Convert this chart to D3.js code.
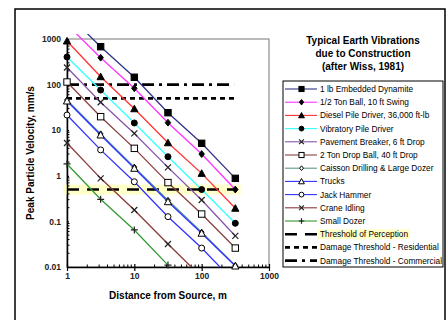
<!DOCTYPE html>
<head>
  <meta charset="utf-8">
  <script src="https://d3js.org/d3.v7.min.js"></script>
  <style>
    body { margin: 0; background: #fff; }
    text { font-family: "Liberation Sans", Arial, sans-serif; }
  </style>
</head>
<body>

<div id="my_dataviz"></div>

<script>

  // distances (m) where the markers sit
  var distances = [1, 3.16, 10, 31.6, 100, 316];

  // peak particle velocity (mm/s), one array per source
  var dynamite        = [3600, 678, 145, 24.2, 5.16, 0.88];
  var halfTonBall     = [2080, 389, 83, 14.6, 3.0, 0.5];
  var dieselPile      = [904, 149, 29.5, 5.3, 1.13, 0.194];
  var vibratoryPile   = [403, 76, 14.4, 2.62, 0.5, 0.091];
  var pavementBreaker = [237, 41, 8.5, 1.53, 0.294, 0.048];
  var dropBall        = [114, 19.8, 4.0, 0.71, 0.145, 0.026];
  var caisson         = [46, 8.3, 1.55, 0.29, 0.058, 0.0108];
  var trucks          = [43.7, 7.85, 1.46, 0.27, 0.055, 0.0105];
  var jackHammer      = [21.5, 3.7, 0.74, 0.127, 0.026, 0.0045];
  var craneIdling     = [5.25, 0.88, 0.178, 0.032, 0.006];
  var smallDozer      = [1.82, 0.305, 0.065, 0.011];

  var seriesNames = ["1 lb Embedded Dynamite", "1/2 Ton Ball, 10 ft Swing",
    "Diesel Pile Driver, 36,000 ft-lb", "Vibratory Pile Driver",
    "Pavement Breaker, 6 ft Drop", "2 Ton Drop Ball, 40 ft Drop",
    "Caisson Drilling & Large Dozer", "Trucks", "Jack Hammer",
    "Crane Idling", "Small Dozer"];

  // thresholds (mm/s) and how far right each line runs (m)
  var thresholdNames = ["Threshold of Perception", "Damage Threshold - Residential",
    "Damage Threshold - Commercial"];
  var thresholdValues = [0.5, 50, 100];
  var thresholdEnds = [330, 312, 303];

  var xTicks = [1, 10, 100, 1000];
  var yTicks = [0.01, 0.1, 1, 10, 100, 1000];

  var seriesValues = [dynamite, halfTonBall, dieselPile, vibratoryPile, pavementBreaker,
    dropBall, caisson, trucks, jackHammer, craneIdling, smallDozer];
  var colors = ["#333388", "#ff33ff", "#ff3333", "#33ffff", "#8a55a8", "#8b4040",
    "#5a9a8a", "#3333ff", "#3333ff", "#8b3a3a", "#339933"];
  var markers = ["square", "diamond", "triangle", "circle", "x", "osquare",
    "odiamond", "otriangle", "ocircle", "x", "plus"];
  var thresholdDash = ["12,8", "5,4", "12,5,3,5"];

  var svg = d3.select("#my_dataviz")
    .append("svg")
      .attr("width", 448)
      .attr("height", 320);

  // outer frame
  svg.append("rect")
    .attr("x", 15).attr("y", 9)
    .attr("width", 430).attr("height", 340)
    .attr("fill", "none")
    .attr("stroke", "#000")
    .attr("stroke-width", 1.5);

  var x = d3.scaleLog().domain([1, 1000]).range([67, 269]);
  var y = d3.scaleLog().domain([0.01, 1000]).range([267, 39]);

  svg.append("clipPath").attr("id", "clip")
    .append("rect")
      .attr("x", 67).attr("y", 34)
      .attr("width", 202).attr("height", 233);

  // plot border
  svg.append("rect")
    .attr("x", 67).attr("y", 39)
    .attr("width", 202).attr("height", 228)
    .attr("fill", "none")
    .attr("stroke", "#8c8c8c")
    .attr("stroke-width", 1.2);

  // yellow band behind threshold of perception
  svg.append("rect")
    .attr("x", x(0.87))
    .attr("y", y(0.5) - 5)
    .attr("width", x(380) - x(0.87))
    .attr("height", 10)
    .attr("fill", "#ffffc8");

  // axes
  var minorX = [], minorY = [];
  [1, 10, 100].forEach(function(d) { for (var k = 2; k < 10; k++) minorX.push(d * k); });
  [0.01, 0.1, 1, 10, 100].forEach(function(d) { for (var k = 2; k < 10; k++) minorY.push(d * k); });

  var gx = svg.append("g").attr("transform", "translate(0,267)");
  gx.call(d3.axisBottom(x).tickValues(xTicks).tickFormat(d3.format("d")).tickSizeInner(4).tickSizeOuter(0));
  gx.selectAll(".tick line").attr("y1", -3).attr("stroke-width", 1.2);
  gx.selectAll(".tick text").attr("dy", "0.5em").attr("y", 8)
    .style("font-size", "8.5px").style("font-weight", "bold").attr("fill", "#222");
  gx.select(".domain").attr("stroke-width", 1.5);
  gx.selectAll(".minor").data(minorX).enter().append("line")
    .attr("x1", function(d) { return x(d); }).attr("x2", function(d) { return x(d); })
    .attr("y1", 0).attr("y2", -2.5).attr("stroke", "#000");

  var gy = svg.append("g").attr("transform", "translate(67,0)");
  gy.call(d3.axisLeft(y).tickValues(yTicks).tickFormat(function(d) { return String(d); }).tickSizeInner(5).tickSizeOuter(0));
  gy.selectAll(".tick line").attr("x2", 2).attr("stroke-width", 1.2);
  gy.selectAll(".tick text").attr("x", -6)
    .style("font-size", "8.5px").style("font-weight", "bold").attr("fill", "#222");
  gy.select(".domain").attr("stroke-width", 1.5);
  gy.selectAll(".minor").data(minorY).enter().append("line")
    .attr("y1", function(d) { return y(d); }).attr("y2", function(d) { return y(d); })
    .attr("x1", 0).attr("x2", 2.5).attr("stroke", "#000");

  // axis titles
  svg.append("text")
    .attr("x", 168).attr("y", 299)
    .attr("text-anchor", "middle")
    .style("font-size", "10px").style("font-weight", "bold")
    .text("Distance from Source, m");
  svg.append("text")
    .attr("transform", "translate(34,153) rotate(-90)")
    .attr("text-anchor", "middle")
    .style("font-size", "10px").style("font-weight", "bold")
    .text("Peak Particle Velocity, mm/s");

  // threshold lines
  var plot = svg.append("g").attr("clip-path", "url(#clip)");
  thresholdValues.forEach(function(v, i) {
    plot.append("line")
      .attr("x1", x(1)).attr("x2", x(thresholdEnds[i]))
      .attr("y1", y(v)).attr("y2", y(v))
      .attr("stroke", "#000")
      .attr("stroke-width", 2.6)
      .attr("stroke-dasharray", thresholdDash[i]);
  });

  // marker drawing, k scales the size
  function drawMarker(g, type, cx, cy, k) {
    k = k || 1;
    var s = 3.2 * k;
    if (type == "square" || type == "osquare") {
      g.append("rect").attr("x", cx - s).attr("y", cy - s).attr("width", 2 * s).attr("height", 2 * s)
        .attr("fill", type == "square" ? "#000" : "#fff").attr("stroke", "#000").attr("stroke-width", 1);
    } else if (type == "diamond" || type == "odiamond") {
      var r = (type == "diamond" ? 3.4 : 3) * k;
      g.append("path").attr("d", "M" + cx + "," + (cy - r) + "L" + (cx + r * 0.8) + "," + cy + "L" + cx + "," + (cy + r) + "L" + (cx - r * 0.8) + "," + cy + "Z")
        .attr("fill", type == "diamond" ? "#000" : "#fff").attr("stroke", "#000").attr("stroke-width", 1);
    } else if (type == "triangle" || type == "otriangle") {
      var t = 3.6 * k;
      g.append("path").attr("d", "M" + cx + "," + (cy - t) + "L" + (cx + t) + "," + (cy + t * 0.83) + "L" + (cx - t) + "," + (cy + t * 0.83) + "Z")
        .attr("fill", type == "triangle" ? "#000" : "#fff").attr("stroke", "#000").attr("stroke-width", 1);
    } else if (type == "circle" || type == "ocircle") {
      g.append("circle").attr("cx", cx).attr("cy", cy).attr("r", 3 * k)
        .attr("fill", type == "circle" ? "#000" : "#fff").attr("stroke", "#000").attr("stroke-width", 1);
    } else if (type == "x") {
      var a = 3 * k;
      g.append("path").attr("d", "M" + (cx - a) + "," + (cy - a) + "L" + (cx + a) + "," + (cy + a) + "M" + (cx + a) + "," + (cy - a) + "L" + (cx - a) + "," + (cy + a))
        .attr("stroke", "#222").attr("stroke-width", 1.2);
    } else if (type == "plus") {
      var p = 3.5 * k;
      g.append("path").attr("d", "M" + (cx - p) + "," + cy + "L" + (cx + p) + "," + cy + "M" + cx + "," + (cy - p) + "L" + cx + "," + (cy + p))
        .attr("stroke", "#222").attr("stroke-width", 1.2);
    }
  }

  var line = d3.line()
    .x(function(d) { return x(d[0]); })
    .y(function(d) { return y(d[1]); });

  seriesValues.forEach(function(vals, i) {
    var pts = vals.map(function(v, j) { return [distances[j], v]; });
    plot.append("path")
      .datum(pts)
      .attr("d", line)
      .attr("fill", "none")
      .attr("stroke", colors[i])
      .attr("stroke-width", 1.3);
  });

  var markerLayer = svg.append("g");
  seriesValues.forEach(function(vals, i) {
    vals.forEach(function(v, j) {
      if (v < 0.0095 || v > 1050) return;
      drawMarker(markerLayer, markers[i], x(distances[j]), y(v));
    });
  });

  // legend title
  var titleLines = ["Typical Earth Vibrations", "due to Construction", "(after Wiss, 1981)"];
  svg.selectAll(".ltitle").data(titleLines).enter().append("text")
    .attr("x", 363)
    .attr("y", function(d, i) { return 44 + i * 13; })
    .attr("text-anchor", "middle")
    .style("font-size", "10px").style("font-weight", "bold")
    .text(function(d) { return d; });

  // legend box
  var legend = svg.append("g");
  legend.append("rect")
    .attr("x", 283).attr("y", 81)
    .attr("width", 160).attr("height", 186)
    .attr("fill", "#fff").attr("stroke", "#000").attr("stroke-width", 1);

  var rowY = function(i) { return 89 + i * 13.2; };

  legend.append("rect")
    .attr("x", 318).attr("y", rowY(11) - 5)
    .attr("width", 92).attr("height", 10)
    .attr("fill", "#ffffc8");

  seriesNames.forEach(function(name, i) {
    legend.append("line")
      .attr("x1", 285).attr("x2", 317)
      .attr("y1", rowY(i)).attr("y2", rowY(i))
      .attr("stroke", colors[i]).attr("stroke-width", 1.1);
    drawMarker(legend, markers[i], 301.5, rowY(i), 0.8);
    legend.append("text")
      .attr("x", 320).attr("y", rowY(i)).attr("dy", "0.35em")
      .style("font-size", "8.3px")
      .text(name);
  });

  thresholdNames.forEach(function(name, k) {
    var i = seriesNames.length + k;
    legend.append("line")
      .attr("x1", 285).attr("x2", 317)
      .attr("y1", rowY(i)).attr("y2", rowY(i))
      .attr("stroke", "#000").attr("stroke-width", 2.6)
      .attr("stroke-dasharray", thresholdDash[k]);
    legend.append("text")
      .attr("x", 320).attr("y", rowY(i)).attr("dy", "0.35em")
      .style("font-size", "8.3px")
      .text(name);
  });

</script>

</body>
